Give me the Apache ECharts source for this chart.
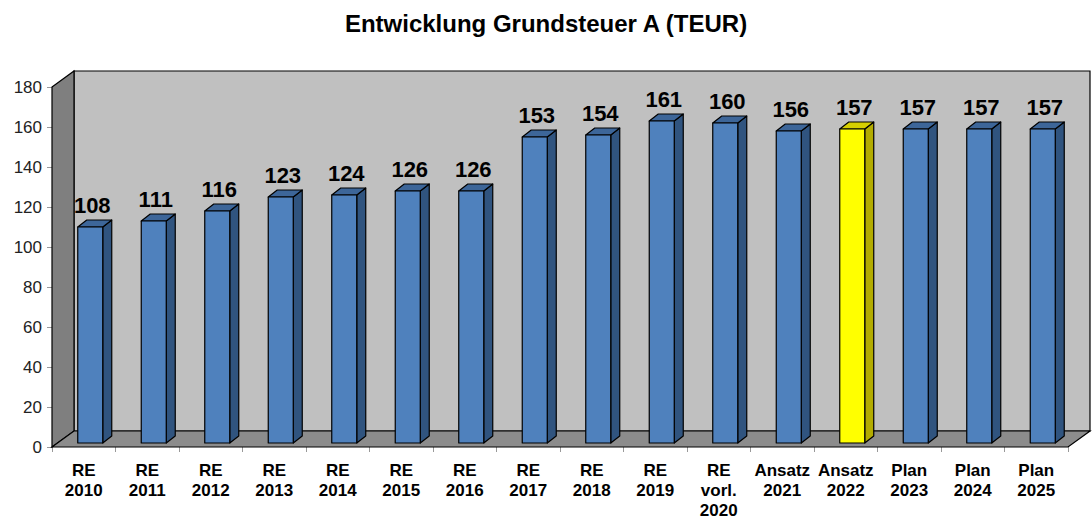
<!DOCTYPE html>
<html>
<head>
<meta charset="utf-8">
<script src="https://cdn.jsdelivr.net/npm/echarts@6/dist/echarts.min.js"></script>
<style>
  html, body { margin: 0; padding: 0; background: #fff; }
  #chart { width: 1092px; height: 520px; }
</style>
</head>
<body>
<div id="chart"></div>
<script>
// data
var categories = ['RE\n2010', 'RE\n2011', 'RE\n2012', 'RE\n2013', 'RE\n2014', 'RE\n2015', 'RE\n2016',
  'RE\n2017', 'RE\n2018', 'RE\n2019', 'RE\nvorl.\n2020', 'Ansatz\n2021', 'Ansatz\n2022',
  'Plan\n2023', 'Plan\n2024', 'Plan\n2025'];
var values = [108, 111, 116, 123, 124, 126, 126, 153, 154, 161, 160, 156, 157, 157, 157, 157];
var highlighted = ['Ansatz\n2022'];
var yMin = 0, yMax = 180, yStep = 20;

// 3d look
var wallDx = 22, wallDy = -16;   // depth of the back wall
var barShiftX = 6.5, barShiftY = -4; // bars sit a bit into the depth
var barW = 25, barDx = 9, barDy = -7;

var blue = { front: '#4F81BD', side: '#30547F', top: '#3D6699' };
var yellow = { front: '#FFFF00', side: '#B3AC00', top: '#D6CF00' };
var font = '"Liberation Sans", Arial, sans-serif';

var chart = echarts.init(document.getElementById('chart'), null, { renderer: 'svg' });

function renderWalls(params, api) {
  var cs = params.coordSys;
  var x0 = cs.x, y0 = cs.y, x1 = cs.x + cs.width, y1 = cs.y + cs.height;
  var line = { stroke: '#000', lineWidth: 1.2 };
  return {
    type: 'group',
    children: [
      { type: 'polygon', shape: { points: [[x0 + wallDx, y0 + wallDy], [x1 + wallDx, y0 + wallDy], [x1 + wallDx, y1 + wallDy], [x0 + wallDx, y1 + wallDy]] },
        style: Object.assign({ fill: '#C0C0C0' }, line) },
      { type: 'polygon', shape: { points: [[x0, y0], [x0 + wallDx, y0 + wallDy], [x0 + wallDx, y1 + wallDy], [x0, y1]] },
        style: Object.assign({ fill: '#7F7F7F' }, line) },
      { type: 'polygon', shape: { points: [[x0, y1], [x0 + wallDx, y1 + wallDy], [x1 + wallDx, y1 + wallDy], [x1, y1]] },
        style: Object.assign({ fill: '#8C8C8C' }, line) }
    ]
  };
}

function renderBar(params, api) {
  var idx = api.value(0);
  var val = api.value(1);
  var top = api.coord([idx, val]);
  var base = api.coord([idx, 0]);
  var c = highlighted.indexOf(categories[idx]) >= 0 ? yellow : blue;
  var xl = top[0] + barShiftX - barW / 2, xr = xl + barW;
  var yt = top[1] + barShiftY, yb = base[1] + barShiftY;
  var s = { stroke: '#000', lineWidth: 1.2, lineJoin: 'round' };
  return {
    type: 'group',
    children: [
      { type: 'polygon', shape: { points: [[xr, yt], [xr + barDx, yt + barDy], [xr + barDx, yb + barDy], [xr, yb]] },
        style: Object.assign({ fill: c.side }, s) },
      { type: 'polygon', shape: { points: [[xl, yt], [xl + barDx, yt + barDy], [xr + barDx, yt + barDy], [xr, yt]] },
        style: Object.assign({ fill: c.top }, s) },
      { type: 'rect', shape: { x: xl, y: yt, width: barW, height: yb - yt },
        style: Object.assign({ fill: c.front }, s) },
      { type: 'text', x: xl + barW / 2 + 2, y: yt + barDy - 4,
        style: { text: String(val), align: 'center', verticalAlign: 'bottom',
          font: 'bold 22px ' + font, fill: '#000' } }
    ]
  };
}

var option = {
  animation: false,
  title: {
    text: 'Entwicklung Grundsteuer A (TEUR)',
    left: 'center',
    top: 6,
    textStyle: { fontFamily: font, fontWeight: 'bold', fontSize: 24, color: '#000' }
  },
  grid: { left: 52, right: 24, top: 87, bottom: 69 },
  xAxis: {
    type: 'category',
    data: categories,
    axisLine: { show: false },
    axisTick: { show: true, length: 5, lineStyle: { color: '#999' } },
    axisLabel: {
      margin: 13,
      interval: 0,
      fontFamily: font,
      fontWeight: 'bold',
      fontSize: 17,
      lineHeight: 20,
      color: '#000'
    }
  },
  yAxis: {
    type: 'value',
    min: yMin,
    max: yMax,
    interval: yStep,
    splitLine: { show: false },
    axisLine: { show: true, lineStyle: { color: '#000' } },
    axisTick: { show: true, length: 5, lineStyle: { color: '#999' } },
    axisLabel: {
      margin: 10,
      fontFamily: font,
      fontSize: 17,
      color: '#222'
    }
  },
  series: [
    {
      type: 'custom',
      renderItem: renderWalls,
      data: [[0, 0]],
      z: 1,
      silent: true
    },
    {
      type: 'custom',
      renderItem: renderBar,
      data: values.map(function (v, i) { return [i, v]; }),
      z: 3
    }
  ]
};

chart.setOption(option);
</script>
</body>
</html>
